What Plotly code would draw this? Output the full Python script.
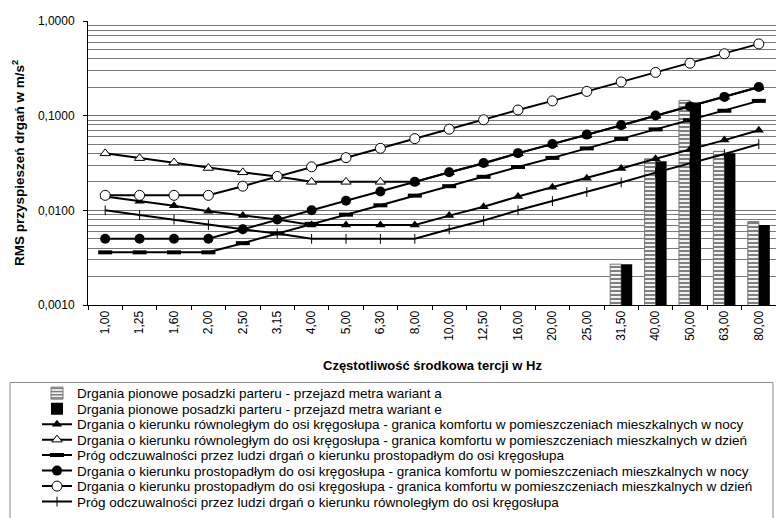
import plotly.graph_objects as go

# Third-octave centre frequencies (category labels)
czestotliwosci = ["1,00", "1,25", "1,60", "2,00", "2,50", "3,15", "4,00", "5,00", "6,30", "8,00",
                  "10,00", "12,50", "16,00", "20,00", "25,00", "31,50", "40,00", "50,00", "63,00", "80,00"]

# Measured floor vibration, RMS acceleration [m/s2]
wariant_a = [None] * 15 + [0.0027, 0.035, 0.145, 0.042, 0.0076]
wariant_e = [None] * 15 + [0.0027, 0.033, 0.138, 0.040, 0.0070]

# Comfort limits and perception thresholds [m/s2]
rown_noc = [0.0140, 0.0125, 0.0112, 0.0098, 0.0088, 0.0080, 0.0070, 0.0070, 0.0070, 0.0070,
            0.0088, 0.0109, 0.0140, 0.0175, 0.0218, 0.0276, 0.0350, 0.0438, 0.0552, 0.0700]
rown_dzien = [0.0400, 0.0356, 0.0320, 0.0280, 0.0252, 0.0228, 0.0200, 0.0200, 0.0200, 0.0200,
              0.0252, 0.0312, 0.0400, 0.0500, 0.0624, 0.0788, 0.1000, 0.1250, 0.1580, 0.2000]
prog_prost = [0.0036, 0.0036, 0.0036, 0.0036, 0.0045, 0.0057, 0.0072, 0.0090, 0.0113, 0.0143,
              0.0180, 0.0226, 0.0287, 0.0358, 0.0451, 0.0568, 0.0716, 0.0895, 0.1127, 0.1432]
prost_noc = [0.0050, 0.0050, 0.0050, 0.0050, 0.0063, 0.0080, 0.0100, 0.0126, 0.0158, 0.0200,
             0.0252, 0.0316, 0.0402, 0.0501, 0.0631, 0.0795, 0.1002, 0.1253, 0.1578, 0.2005]
prost_dzien = [0.0144, 0.0144, 0.0144, 0.0144, 0.0180, 0.0228, 0.0288, 0.0360, 0.0452, 0.0572,
               0.0720, 0.0904, 0.1148, 0.1432, 0.1804, 0.2272, 0.2864, 0.3580, 0.4508, 0.5728]
prog_rown = [0.0100, 0.0089, 0.0080, 0.0070, 0.0063, 0.0057, 0.0050, 0.0050, 0.0050, 0.0050,
             0.0063, 0.0078, 0.0100, 0.0125, 0.0156, 0.0197, 0.0250, 0.0313, 0.0394, 0.0500]

y_tickvals = [0.001, 0.01, 0.1, 1.0]
y_ticktext = ["0,0010", "0,0100", "0,1000", "1,0000"]

FONT = "Liberation Sans, Arial, sans-serif"
W, H = 776, 518
ML, MR, MT, MB = 88, 0, 21, 211
PW, PH = W - ML - MR, H - MT - MB


def px_x(p):
    return (p - ML) / PW


def px_y(p):
    return (H - MB - p) / PH


fig = go.Figure()

fig.add_bar(
    x=czestotliwosci, y=wariant_a, name="Drgania pionowe posadzki parteru - przejazd metra wariant a",
    marker=dict(color="white", line=dict(color="#777777", width=1),
                pattern=dict(shape="-", fgcolor="black", bgcolor="white", size=4, solidity=0.55)),
    legend="legend",
)
fig.add_bar(
    x=czestotliwosci, y=wariant_e, name="Drgania pionowe posadzki parteru - przejazd metra wariant e",
    marker=dict(color="black", line=dict(color="black", width=0)),
    legend="legend2",
)

line = dict(color="black", width=2)
fig.add_scatter(
    x=czestotliwosci, y=rown_noc, mode="lines+markers", line=line,
    marker=dict(symbol="triangle-up", size=9, color="black"),
    name="Drgania o kierunku równoległym do osi kręgosłupa - granica komfortu w pomieszczeniach mieszkalnych w nocy",
    legend="legend3",
)
fig.add_scatter(
    x=czestotliwosci, y=rown_dzien, mode="lines+markers", line=line,
    marker=dict(symbol="triangle-up", size=9, color="white", line=dict(color="black", width=1)),
    name="Drgania o kierunku równoległym do osi kręgosłupa - granica komfortu w pomieszczeniach mieszkalnych w dzień",
    legend="legend4",
)
fig.add_scatter(
    x=czestotliwosci, y=prog_prost, mode="lines+markers", line=line,
    marker=dict(symbol="line-ew", size=10, color="black", line=dict(color="black", width=4)),
    name="Próg odczuwalności przez ludzi drgań o kierunku prostopadłym do osi kręgosłupa",
    legend="legend5",
)
fig.add_scatter(
    x=czestotliwosci, y=prost_noc, mode="lines+markers", line=line,
    marker=dict(symbol="circle", size=10, color="black"),
    name="Drgania o kierunku prostopadłym do osi kręgosłupa - granica komfortu w pomieszczeniach mieszkalnych w nocy",
    legend="legend6",
)
fig.add_scatter(
    x=czestotliwosci, y=prost_dzien, mode="lines+markers", line=line,
    marker=dict(symbol="circle", size=10, color="white", line=dict(color="black", width=1)),
    name="Drgania o kierunku prostopadłym do osi kręgosłupa - granica komfortu w pomieszczeniach mieszkalnych w dzień",
    legend="legend7",
)
fig.add_scatter(
    x=czestotliwosci, y=prog_rown, mode="lines+markers", line=line,
    marker=dict(symbol="line-ns", size=7, color="black", line=dict(color="black", width=1)),
    name="Próg odczuwalności przez ludzi drgań o kierunku równoległym do osi kręgosłupa",
    legend="legend8",
)

# One single-entry legend per series so the rows can sit closely together
legend_rows = [396 + i * 15.6 for i in range(8)]
legend_keys = ["legend"] + [f"legend{i}" for i in range(2, 9)]
legends = {}
for key, row in zip(legend_keys, legend_rows):
    legends[key] = dict(
        x=px_x(37), y=px_y(row), xanchor="left", yanchor="middle",
        bgcolor="rgba(0,0,0,0)", borderwidth=0,
        font=dict(family=FONT, size=13.5, color="black"),
    )

minor_vals = [m * d for d in (0.001, 0.01, 0.1) for m in range(2, 10)]

fig.update_layout(
    width=W, height=H,
    margin=dict(l=ML, r=MR, t=MT, b=MB, pad=0),
    paper_bgcolor="white", plot_bgcolor="white",
    font=dict(family=FONT, size=12, color="black"),
    barmode="group", bargap=0.36, bargroupgap=0,
    showlegend=True,
    **legends,
    xaxis=dict(
        type="category", range=[-0.5, 19.5], tickangle=-90,
        ticks="outside", ticklen=4, tickcolor="black", tickson="boundaries",
        showline=True, linecolor="black", linewidth=1, showgrid=False,
        tickfont=dict(family=FONT, size=12, color="black"),
    ),
    yaxis=dict(
        type="log", range=[-3, 0],
        tickvals=y_tickvals, ticktext=y_ticktext,
        ticks="outside", ticklen=4, tickcolor="black", ticklabelstandoff=6,
        showline=True, linecolor="black", linewidth=1,
        showgrid=True, gridcolor="#707070", gridwidth=1,
        minor=dict(tickvals=minor_vals, showgrid=True, gridcolor="#7a7a7a", gridwidth=1, ticks=""),
        tickfont=dict(family=FONT, size=12, color="black"),
        zeroline=False,
    ),
    shapes=[
        dict(type="rect", xref="paper", yref="paper",
             x0=px_x(10), x1=px_x(773), y0=px_y(545), y1=px_y(385),
             line=dict(color="#888888", width=1), fillcolor="rgba(0,0,0,0)"),
    ],
    annotations=[
        dict(text="<b>Częstotliwość środkowa tercji w Hz</b>", xref="paper", yref="paper",
             x=px_x(432), y=px_y(368), showarrow=False, xanchor="center", yanchor="middle",
             font=dict(family=FONT, size=13, color="black")),
        dict(text="<b>RMS przyspieszeń drgań w m/s<sup>2</sup></b>", xref="paper", yref="paper",
             x=px_x(18), y=px_y(164), showarrow=False, textangle=-90,
             xanchor="center", yanchor="middle",
             font=dict(family=FONT, size=13.5, color="black")),
    ],
)

fig.write_html("out.html")
